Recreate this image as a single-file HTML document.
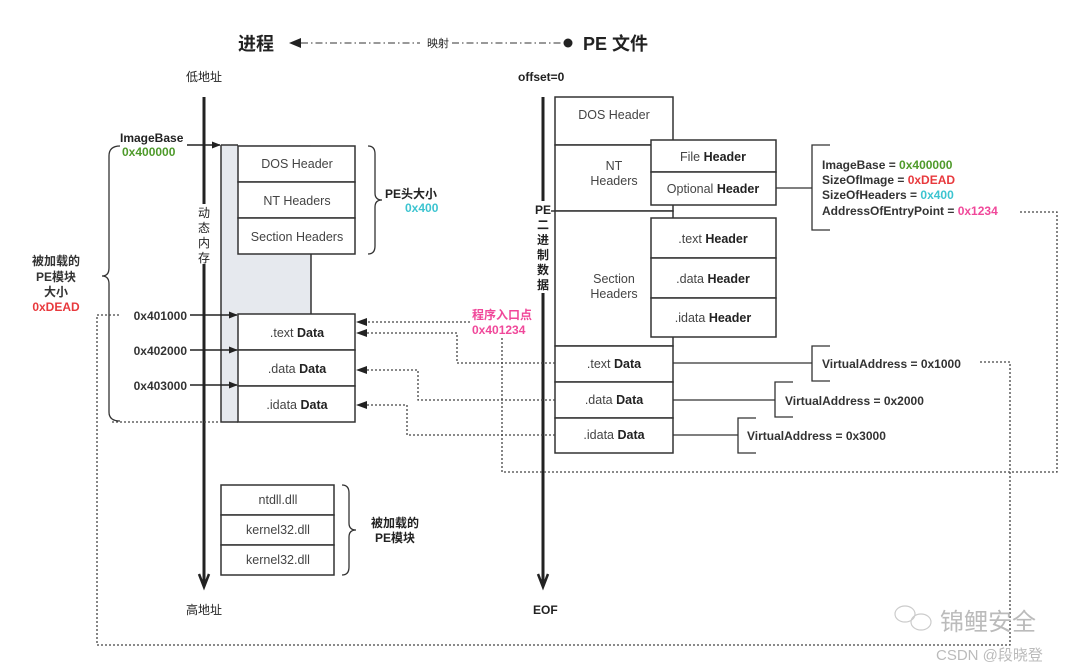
<!DOCTYPE html>
<html><head><meta charset="utf-8"><style>
html,body{margin:0;padding:0;background:#fff;}
svg{display:block;}
text{font-family:"Liberation Sans","Noto Sans CJK SC",sans-serif;}
</style></head><body>
<svg width="1080" height="669" viewBox="0 0 1080 669" xmlns="http://www.w3.org/2000/svg">
<defs>
<marker id="ar" viewBox="0 0 10 10" refX="9" refY="5" markerWidth="9" markerHeight="9" orient="auto" markerUnits="userSpaceOnUse"><path d="M0,1 L10,5 L0,9 z" fill="#222"/></marker>
</defs>
<!-- title -->
<text x="238" y="50" font-size="18" font-weight="bold" fill="#222">进程</text>
<path d="M289,43 L301,38 L301,48 z" fill="#222"/>
<line x1="301" y1="43" x2="420" y2="43" stroke="#333" stroke-width="1" stroke-dasharray="7,3,1.5,3"/>
<text x="427" y="47" font-size="11" fill="#222">映射</text>
<line x1="452" y1="43" x2="566" y2="43" stroke="#333" stroke-width="1" stroke-dasharray="7,3,1.5,3"/>
<circle cx="568" cy="43" r="4.5" fill="#222"/>
<text x="583" y="50" font-size="18" font-weight="bold" fill="#222">PE 文件</text>

<text x="186" y="81" font-size="12" fill="#222">低地址</text>
<text x="518" y="81" font-size="12" font-weight="bold" fill="#222">offset=0</text>
<text x="186" y="614" font-size="12" fill="#222">高地址</text>
<text x="533" y="614" font-size="12" font-weight="bold" fill="#222">EOF</text>

<!-- left vertical axis -->
<line x1="204" y1="97" x2="204" y2="586" stroke="#222" stroke-width="3"/>
<polyline points="199,574 204,587 209,574" fill="none" stroke="#222" stroke-width="2.5"/>
<rect x="196" y="204" width="16" height="60" fill="#fff"/>
<g font-size="12" fill="#222" text-anchor="middle">
<text x="204" y="217">动</text><text x="204" y="232">态</text><text x="204" y="247">内</text><text x="204" y="262">存</text>
</g>

<!-- gray region -->
<rect x="221" y="145" width="90" height="277" fill="#e6e9ee"/>
<path d="M221,145 L238,145 M221,145 L221,422 L238,422 M311,254 L311,314" stroke="#333" stroke-width="1.5" fill="none"/>
<g fill="#fff" stroke="#333" stroke-width="1.5">
<rect x="238" y="146" width="117" height="36"/>
<rect x="238" y="182" width="117" height="36"/>
<rect x="238" y="218" width="117" height="36"/>
<rect x="238" y="314" width="117" height="36"/>
<rect x="238" y="350" width="117" height="36"/>
<rect x="238" y="386" width="117" height="36"/>
</g>
<g font-size="12.5" fill="#444" text-anchor="middle">
<text x="297" y="168">DOS Header</text>
<text x="297" y="205">NT Headers</text>
<text x="297" y="241">Section Headers</text>
<text x="297" y="337">.text <tspan font-weight="bold" fill="#222">Data</tspan></text>
<text x="297" y="373">.data <tspan font-weight="bold" fill="#222">Data</tspan></text>
<text x="297" y="409">.idata <tspan font-weight="bold" fill="#222">Data</tspan></text>
</g>

<!-- left address arrows -->
<g stroke="#222" stroke-width="1.5">
<line x1="187" y1="145" x2="220" y2="145" marker-end="url(#ar)"/>
<line x1="190" y1="315" x2="237" y2="315" marker-end="url(#ar)"/>
<line x1="190" y1="350" x2="237" y2="350" marker-end="url(#ar)"/>
<line x1="190" y1="385" x2="237" y2="385" marker-end="url(#ar)"/>
</g>
<text x="120" y="142" font-size="12" font-weight="bold" fill="#222">ImageBase</text>
<text x="122" y="156" font-size="12" font-weight="bold" fill="#4e9a2a">0x400000</text>
<g font-size="12" font-weight="bold" fill="#333" text-anchor="end">
<text x="187" y="320">0x401000</text>
<text x="187" y="355">0x402000</text>
<text x="187" y="390">0x403000</text>
</g>
<path d="M120,146 Q109,146 109,156 L109,268 Q109,276 102,276 Q109,276 109,284 L109,412 Q109,421 120,421" fill="none" stroke="#333" stroke-width="1.3"/>
<g font-size="12" font-weight="bold" fill="#333" text-anchor="middle">
<text x="56" y="265">被加载的</text>
<text x="56" y="281">PE模块</text>
<text x="56" y="296">大小</text>
<text x="56" y="311" fill="#e8393d">0xDEAD</text>
</g>
<line x1="112" y1="422" x2="220" y2="422" stroke="#444" stroke-width="1.2" stroke-dasharray="2,2"/>
<path d="M368,146 Q375,146 375,154 L375,193 Q375,200 382,200 Q375,200 375,207 L375,246 Q375,254 368,254" fill="none" stroke="#333" stroke-width="1.3"/>
<text x="385" y="198" font-size="12" font-weight="bold" fill="#222">PE头大小</text>
<text x="405" y="212" font-size="12" font-weight="bold" fill="#3cc4d0">0x400</text>

<!-- dll boxes -->
<g fill="#fff" stroke="#333" stroke-width="1.5">
<rect x="221" y="485" width="113" height="30"/>
<rect x="221" y="515" width="113" height="30"/>
<rect x="221" y="545" width="113" height="30"/>
</g>
<g font-size="12.5" fill="#444" text-anchor="middle">
<text x="278" y="504">ntdll.dll</text>
<text x="278" y="534">kernel32.dll</text>
<text x="278" y="564">kernel32.dll</text>
</g>
<path d="M342,485 Q349,485 349,493 L349,523 Q349,530 356,530 Q349,530 349,537 L349,567 Q349,575 342,575" fill="none" stroke="#333" stroke-width="1.3"/>
<text x="371" y="527" font-size="12" font-weight="bold" fill="#222">被加载的</text>
<text x="375" y="542" font-size="12" font-weight="bold" fill="#222">PE模块</text>

<!-- right axis -->
<line x1="543" y1="97" x2="543" y2="586" stroke="#222" stroke-width="3"/>
<polyline points="538,574 543,587 548,574" fill="none" stroke="#222" stroke-width="2.5"/>
<line x1="543" y1="211" x2="555" y2="211" stroke="#333" stroke-width="1.5"/>
<rect x="535" y="201" width="16" height="92" fill="#fff"/>
<g font-size="12" font-weight="bold" fill="#222" text-anchor="middle">
<text x="543" y="214">PE</text><text x="543" y="229">二</text><text x="543" y="244">进</text><text x="543" y="259">制</text><text x="543" y="274">数</text><text x="543" y="289">据</text>
</g>

<g fill="#fff" stroke="#333" stroke-width="1.5">
<rect x="555" y="97" width="118" height="48"/>
<rect x="555" y="145" width="118" height="66"/>
<rect x="555" y="211" width="118" height="135"/>
<rect x="555" y="346" width="118" height="36"/>
<rect x="555" y="382" width="118" height="36"/>
<rect x="555" y="418" width="118" height="35"/>
<rect x="651" y="140" width="125" height="32"/>
<rect x="651" y="172" width="125" height="33"/>
<rect x="651" y="218" width="125" height="40"/>
<rect x="651" y="258" width="125" height="40"/>
<rect x="651" y="298" width="125" height="39"/>
</g>
<g font-size="12.5" fill="#444" text-anchor="middle">
<text x="614" y="119">DOS Header</text>
<text x="614" y="170">NT</text><text x="614" y="185">Headers</text>
<text x="614" y="283">Section</text><text x="614" y="298">Headers</text>
<text x="614" y="368">.text <tspan font-weight="bold" fill="#222">Data</tspan></text>
<text x="614" y="404">.data <tspan font-weight="bold" fill="#222">Data</tspan></text>
<text x="614" y="439">.idata <tspan font-weight="bold" fill="#222">Data</tspan></text>
<text x="713" y="161">File <tspan font-weight="bold" fill="#222">Header</tspan></text>
<text x="713" y="193">Optional <tspan font-weight="bold" fill="#222">Header</tspan></text>
<text x="713" y="243">.text <tspan font-weight="bold" fill="#222">Header</tspan></text>
<text x="713" y="283">.data <tspan font-weight="bold" fill="#222">Header</tspan></text>
<text x="713" y="322">.idata <tspan font-weight="bold" fill="#222">Header</tspan></text>
</g>

<g stroke="#333" stroke-width="1.3" fill="none">
<line x1="776" y1="188" x2="812" y2="188"/>
<polyline points="830,145 812,145 812,230 830,230"/>
<line x1="673" y1="363" x2="812" y2="363"/>
<polyline points="830,346 812,346 812,381 830,381"/>
<line x1="673" y1="400" x2="775" y2="400"/>
<polyline points="793,382 775,382 775,417 793,417"/>
<line x1="673" y1="435" x2="738" y2="435"/>
<polyline points="756,418 738,418 738,453 756,453"/>
</g>
<g font-size="12" font-weight="bold" fill="#333">
<text x="822" y="169">ImageBase = <tspan fill="#4e9a2a">0x400000</tspan></text>
<text x="822" y="184">SizeOfImage = <tspan fill="#e8393d">0xDEAD</tspan></text>
<text x="822" y="199">SizeOfHeaders = <tspan fill="#3cc4d0">0x400</tspan></text>
<text x="822" y="215">AddressOfEntryPoint = <tspan fill="#f0489a">0x1234</tspan></text>
<text x="822" y="368">VirtualAddress = 0x1000</text>
<text x="785" y="405">VirtualAddress = 0x2000</text>
<text x="747" y="440">VirtualAddress = 0x3000</text>
</g>
<text x="472" y="319" font-size="12" font-weight="bold" fill="#f0489a">程序入口点</text>
<text x="472" y="334" font-size="12" font-weight="bold" fill="#f0489a">0x401234</text>

<g stroke="#444" stroke-width="1.3" fill="none" stroke-dasharray="2,2">
<polyline points="470,322 364,322" />
<polyline points="555,363 457,363 457,333 364,333"/>
<polyline points="555,400 418,400 418,370 364,370"/>
<polyline points="555,435 407,435 407,405 364,405"/>
<polyline points="1020,212 1057,212 1057,472 502,472 502,338"/>
<polyline points="980,362 1010,362 1010,645 97,645 97,315 120,315"/>
</g>
<g fill="#222">
<path d="M356,322 L367,318 L367,326 z"/>
<path d="M356,333 L367,329 L367,337 z"/>
<path d="M356,370 L367,366 L367,374 z"/>
<path d="M356,405 L367,401 L367,409 z"/>
</g>

<g opacity="0.5" fill="none" stroke="#999" stroke-width="1.2">
<ellipse cx="905" cy="614" rx="10" ry="8"/>
<ellipse cx="921" cy="622" rx="10" ry="8"/>
</g>
<text x="940" y="630" font-size="24" fill="#bbb">锦鲤安全</text>
<text x="936" y="660" font-size="15" fill="#bbb">CSDN @段晓登</text>
</svg>
</body></html>
